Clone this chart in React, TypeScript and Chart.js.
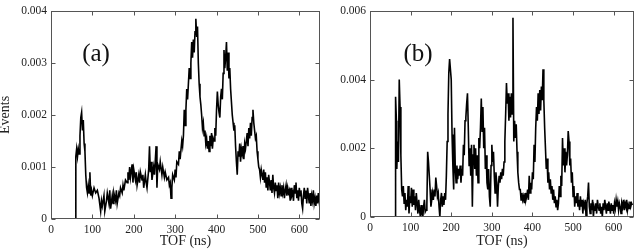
import React, { useEffect, useRef } from "react";
import { Chart, registerables } from "chart.js";

Chart.register(...registerables);

// ---- Data (events in units of 1e-3) ----
const tofA = [0, 59, 60, 62, 64, 66, 68, 70, 72, 74, 76, 78, 80, 82, 84, 86, 88, 90, 92, 94, 96, 98, 100, 104, 108, 112, 116, 120, 122, 124, 128, 130, 134, 136, 140, 142, 144, 148, 150, 152, 156, 158, 160, 164, 166, 168, 172, 174, 176, 180, 184, 186, 188, 190, 192, 196, 198, 200, 204, 206, 208, 212, 214, 216, 220, 222, 224, 228, 230, 232, 236, 238, 240, 242, 244, 248, 250, 254, 256, 258, 262, 264, 268, 270, 274, 276, 280, 284, 286, 288, 290, 292, 294, 298, 300, 302, 304, 308, 310, 312, 316, 318, 320, 322, 324, 326, 328, 330, 332, 334, 336, 338, 340, 342, 344, 346, 348, 350, 352, 354, 356, 358, 360, 362, 364, 366, 368, 370, 372, 374, 376, 378, 380, 382, 384, 386, 388, 390, 392, 394, 396, 398, 400, 402, 404, 406, 408, 410, 412, 414, 416, 418, 420, 422, 424, 426, 428, 430, 432, 434, 436, 438, 440, 442, 444, 446, 448, 450, 452, 454, 456, 458, 460, 462, 464, 466, 468, 470, 472, 474, 476, 478, 480, 482, 484, 486, 488, 490, 492, 494, 496, 498, 500, 502, 504, 506, 508, 510, 512, 514, 516, 518, 520, 522, 524, 526, 528, 530, 532, 534, 536, 538, 540, 542, 544, 546, 548, 550, 552, 554, 556, 558, 560, 562, 564, 566, 568, 570, 572, 574, 576, 578, 580, 582, 584, 586, 588, 590, 592, 594, 596, 598, 600, 602, 604, 606, 608, 610, 612, 614, 616, 618, 620, 622, 624, 626, 628, 630, 632, 634, 636, 638, 640, 642, 644, 646, 648, 650];
const eventsA = [0, 0, 1.2, 1.35, 1.2, 1.35, 1.25, 1.6, 1.95, 2.05, 1.7, 1.9, 1.45, 1.3, 0.85, 0.6, 0.5, 0.65, 0.5, 0.9, 0.45, 0.55, 0.45, 0.6, 0.5, 0.55, 0.4, 0.15, 0.35, 0.25, 0.45, 0.15, 0.35, 0.5, 0.3, 0.55, 0.2, 0.45, 0.3, 0.5, 0.35, 0.55, 0.3, 0.5, 0.45, 0.6, 0.5, 0.65, 0.55, 0.75, 0.7, 0.9, 0.75, 1.0, 0.8, 1.05, 0.7, 0.95, 0.75, 0.9, 0.65, 0.85, 0.7, 0.9, 0.75, 0.85, 0.6, 0.85, 0.7, 0.6, 0.95, 1.4, 0.9, 1.1, 0.75, 1.0, 0.85, 1.4, 0.6, 1.05, 0.95, 1.1, 0.85, 1.0, 0.8, 0.9, 0.75, 0.8, 0.65, 0.7, 0.4, 0.6, 0.85, 0.75, 0.95, 0.8, 1.1, 1.05, 1.3, 1.15, 1.5, 1.4, 1.6, 2.1, 1.8, 2.1, 2.5, 2.3, 2.6, 2.9, 2.7, 3.0, 3.4, 3.1, 3.45, 3.2, 3.6, 3.85, 3.5, 3.7, 3.0, 2.6, 2.35, 2.2, 2.0, 1.75, 1.85, 1.6, 1.7, 1.45, 1.55, 1.35, 1.5, 1.3, 1.6, 1.4, 1.65, 1.35, 1.55, 1.5, 1.75, 1.6, 2.1, 2.45, 2.2, 2.05, 1.95, 2.35, 2.5, 2.3, 2.8, 3.25, 2.9, 3.1, 3.4, 2.85, 3.2, 2.7, 2.9, 2.5, 2.25, 2.0, 1.85, 1.7, 1.8, 1.4, 1.1, 0.85, 1.3, 1.2, 1.45, 1.1, 1.35, 1.25, 1.4, 1.15, 1.45, 1.35, 1.5, 1.65, 1.4, 1.75, 1.55, 1.85, 1.6, 1.95, 2.1, 1.85, 1.7, 1.55, 1.6, 1.3, 1.15, 1.0, 0.95, 0.8, 0.95, 0.85, 0.75, 0.95, 0.7, 0.9, 0.6, 0.8, 0.55, 0.85, 0.7, 0.55, 0.75, 0.5, 0.85, 0.6, 0.5, 0.7, 0.55, 0.65, 0.4, 0.7, 0.5, 0.6, 0.45, 0.65, 0.5, 0.6, 0.4, 0.55, 0.65, 0.45, 0.6, 0.5, 0.55, 0.35, 0.6, 0.45, 0.5, 0.35, 0.65, 0.5, 0.7, 0.4, 0.55, 0.35, 0.6, 0.45, 0.55, 0.3, 0.2, 0.45, 0.6, 0.4, 0.55, 0.3, 0.6, 0.45, 0.3, 0.5, 0.25, 0.45, 0.35, 0.55, 0.3, 0.4, 0.25, 0.45, 0.3, 0.5, 0.35, 0.45];

const tofB = [0, 62, 63, 65, 66, 68, 70, 72, 74, 76, 78, 80, 82, 84, 86, 88, 90, 92, 94, 96, 98, 100, 102, 104, 106, 108, 110, 112, 114, 116, 118, 120, 122, 124, 126, 128, 130, 132, 134, 136, 138, 140, 142, 144, 146, 148, 150, 152, 154, 156, 158, 160, 162, 164, 166, 168, 170, 172, 174, 176, 178, 180, 182, 184, 186, 188, 190, 192, 194, 196, 198, 200, 202, 204, 206, 208, 210, 212, 214, 216, 218, 220, 222, 224, 226, 228, 230, 232, 234, 236, 238, 240, 242, 244, 246, 248, 250, 252, 254, 256, 258, 260, 262, 264, 266, 268, 270, 272, 274, 276, 278, 280, 282, 284, 286, 288, 290, 292, 294, 296, 298, 300, 302, 304, 306, 308, 310, 312, 314, 316, 318, 320, 322, 324, 326, 328, 330, 332, 334, 336, 338, 340, 342, 344, 346, 348, 350, 352, 354, 356, 358, 360, 362, 364, 366, 368, 370, 372, 374, 376, 378, 380, 382, 384, 386, 388, 390, 392, 394, 396, 398, 400, 402, 404, 406, 408, 410, 412, 414, 416, 418, 420, 422, 424, 426, 428, 430, 432, 434, 436, 438, 440, 442, 444, 446, 448, 450, 452, 454, 456, 458, 460, 462, 464, 466, 468, 470, 472, 474, 476, 478, 480, 482, 484, 486, 488, 490, 492, 494, 496, 498, 500, 502, 504, 506, 508, 510, 512, 514, 516, 518, 520, 522, 524, 526, 528, 530, 532, 534, 536, 538, 540, 542, 544, 546, 548, 550, 552, 554, 556, 558, 560, 562, 564, 566, 568, 570, 572, 574, 576, 578, 580, 582, 584, 586, 588, 590, 592, 594, 596, 598, 600, 602, 604, 606, 608, 610, 612, 614, 616, 618, 620, 622, 624, 626, 628, 630, 632, 634, 636, 638, 640, 642, 644, 646, 648, 650];
const eventsB = [0, 0, 3.5, 2.8, 1.4, 2.2, 1.6, 4.0, 3.2, 1.8, 0.8, 0.6, 0.9, 0.4, 0.7, 0.2, 0.5, 0.3, 0.9, 0.1, 0.6, 0.4, 0.85, 0.3, 0.8, 0.35, 0.6, 0.2, 0.7, 0.4, 0.1, 0.5, 0.2, 0.0, 0.35, 0.1, 0.0, 0.3, 0.5, 0.15, 0.2, 0.35, 1.9, 1.6, 1.2, 0.8, 0.3, 0.5, 0.7, 0.5, 0.8, 0.6, 1.15, 0.9, 0.6, 0.7, 0.3, 0.0, 0.5, 0.7, 0.3, 0.6, 0.35, 0.7, 0.5, 1.2, 2.2, 3.0, 4.2, 4.6, 4.3, 4.0, 2.4, 1.5, 0.8, 2.6, 1.4, 1.0, 1.5, 1.1, 1.4, 1.2, 1.5, 1.0, 1.4, 1.2, 2.1, 1.8, 2.8, 2.9, 3.3, 3.6, 2.6, 1.5, 2.0, 1.2, 2.1, 0.3, 1.8, 2.1, 1.4, 2.0, 1.2, 1.8, 1.0, 2.3, 2.0, 2.6, 3.45, 2.5, 3.2, 2.0, 2.6, 1.4, 1.8, 1.0, 0.8, 1.4, 0.6, 0.3, 1.5, 2.1, 1.6, 1.9, 1.2, 0.7, 1.3, 1.0, 0.3, 0.9, 1.2, 1.0, 1.3, 1.1, 1.4, 1.2, 1.6, 2.2, 3.0, 3.9, 3.3, 3.6, 2.8, 3.5, 2.9, 3.6, 3.0, 5.8, 2.2, 2.8, 2.3, 2.7, 1.9, 1.3, 1.0, 0.8, 0.8, 0.5, 0.7, 0.5, 0.6, 0.4, 0.7, 0.5, 0.6, 0.8, 0.5, 1.2, 0.7, 1.0, 0.8, 1.3, 1.1, 2.1, 1.6, 2.6, 3.2, 2.8, 3.6, 3.0, 3.7, 3.1, 3.8, 3.4, 4.3, 3.4, 2.6, 2.0, 1.4, 1.7, 1.0, 1.3, 0.8, 1.1, 0.7, 0.9, 0.5, 0.8, 0.4, 0.6, 0.3, 0.5, 0.2, 0.4, 0.9, 0.6, 1.2, 0.9, 2.3, 1.5, 2.0, 1.3, 1.9, 1.5, 1.8, 2.5, 2.2, 1.5, 1.7, 1.0, 1.3, 0.6, 0.9, 0.3, 0.6, 0.4, 0.7, 0.3, 0.5, 0.2, 0.6, 0.3, 0.5, 0.1, 0.4, 0.3, 0.5, 0.0, 0.4, 0.6, 1.0, 0.3, 0.1, 0.4, 0.2, 0.5, 0.0, 0.3, 0.2, 0.4, 0.1, 0.5, 0.3, 0.2, 0.4, 0.1, 0.3, 0.0, 0.4, 0.2, 0.5, 0.3, 0.1, 0.4, 0.2, 0.45, 0.3, 0.1, 0.4, 0.2, 0.35, 0.1, 0.4, 0.25, 0.5, 0.3, 0.45, 0.2, 0.4, 0.3, 0.1, 0.4, 0.3, 0.5, 0.2, 0.4, 0.3, 0.5, 0.2, 0.35, 0.25, 0.45, 0.3, 0.4, 0.35];

const xTickValues = [0, 100, 200, 300, 400, 500, 600];
const xTitle = "TOF (ns)";
const yTitle = "Events";

const FONT = "'Liberation Serif', 'DejaVu Serif', serif";

const framePlugin = {
  id: "frameTicks",
  afterDraw(chart: any, _args: any, opts: any) {
    const { ctx, chartArea } = chart;
    const left = Math.round(chartArea.left) + 0.5;
    const right = Math.round(chartArea.right) - 0.5;
    const top = Math.round(chartArea.top) + 0.5;
    const bottom = Math.round(chartArea.bottom) - 0.5;
    const xs = chart.scales.x;
    const ys = chart.scales.y;
    ctx.save();
    ctx.strokeStyle = "#555";
    ctx.lineWidth = 1;
    ctx.strokeRect(left, top, right - left, bottom - top);
    const L = 4;
    ctx.beginPath();
    xs.ticks.forEach((t: any) => {
      const p = Math.round(xs.getPixelForValue(t.value)) + 0.5;
      ctx.moveTo(p, bottom);
      ctx.lineTo(p, bottom - L);
      ctx.moveTo(p, top);
      ctx.lineTo(p, top + L);
    });
    ys.ticks.forEach((t: any) => {
      const p = Math.round(ys.getPixelForValue(t.value)) + 0.5;
      ctx.moveTo(left, p);
      ctx.lineTo(left + L, p);
      ctx.moveTo(right, p);
      ctx.lineTo(right - L, p);
    });
    ctx.stroke();
    ctx.fillStyle = "#111";
    ctx.font = `25px ${FONT}`;
    ctx.textAlign = "center";
    ctx.textBaseline = "middle";
    ctx.fillText(opts.label, chartArea.left + opts.lx, chartArea.top + opts.ly);
    ctx.restore();
  },
};

type PanelProps = {
  tof: number[];
  events: number[];
  yMax: number;
  yStep: number;
  label: string;
  showYTitle: boolean;
  width: number;
  left: number;
  yAxisWidth: number;
  xAxisHeight: number;
  padRight: number;
  lx: number;
  ly: number;
};

function Panel(p: PanelProps) {
  const ref = useRef<HTMLCanvasElement>(null);
  useEffect(() => {
    if (!ref.current) return;
    const data = p.tof.map((x, i) => ({ x, y: p.events[i] / 1000 }));
    const chart = new Chart(ref.current, {
      type: "line",
      data: {
        datasets: [
          {
            data,
            borderColor: "#000",
            borderWidth: 1.6,
            pointRadius: 0,
            tension: 0,
            fill: false,
          },
        ],
      },
      plugins: [framePlugin as any],
      options: {
        animation: false,
        responsive: false,
        devicePixelRatio: 1,
        layout: { padding: { top: 8, right: p.padRight, left: 0, bottom: 0 } },
        plugins: {
          legend: { display: false },
          tooltip: { enabled: false },
          frameTicks: { label: p.label, lx: p.lx, ly: p.ly },
        } as any,
        scales: {
          x: {
            type: "linear",
            min: 0,
            max: 650,
            grid: { display: false, drawTicks: false },
            border: { display: false },
            afterFit: (s: any) => {
              s.height = p.xAxisHeight;
            },
            afterBuildTicks: (s: any) => {
              s.ticks = xTickValues.map((v) => ({ value: v }));
            },
            ticks: {
              padding: 4,
              color: "#222",
              font: { family: FONT, size: 11.5 },
              maxRotation: 0,
              callback: (v: any) => String(v),
            },
            title: {
              display: true,
              text: xTitle,
              color: "#222",
              font: { family: FONT, size: 14, lineHeight: 1 },
              padding: { top: 0, bottom: 2 },
            },
          },
          y: {
            type: "linear",
            min: 0,
            max: p.yMax,
            grid: { display: false, drawTicks: false },
            border: { display: false },
            afterFit: (s: any) => {
              s.width = p.yAxisWidth;
            },
            afterBuildTicks: (s: any) => {
              const vals: number[] = [];
              const n = Math.round(p.yMax / p.yStep);
              for (let i = 0; i <= n; i++) vals.push(p.yStep * i);
              s.ticks = vals.map((v) => ({ value: v }));
            },
            ticks: {
              padding: 4,
              color: "#222",
              font: { family: FONT, size: 11.5 },
              callback: (v: any) => (Number(v) === 0 ? "0" : Number(v).toFixed(3)),
            },
            title: {
              display: p.showYTitle,
              text: yTitle,
              color: "#222",
              font: { family: FONT, size: 14, lineHeight: 1 },
              padding: { top: -2, bottom: 0 },
            },
          },
        },
      },
    });
    return () => chart.destroy();
  }, []);
  return (
    <canvas
      ref={ref}
      width={p.width}
      height={250}
      style={{ position: "absolute", left: p.left, top: 0, width: p.width, height: 250, display: "block" }}
    />
  );
}

export default function App() {
  return (
    <div style={{ position: "fixed", left: 0, top: 0, width: 640, height: 250, background: "#fff" }}>
      <Panel
        tof={tofA}
        events={eventsA}
        yMax={0.004}
        yStep={0.001}
        label="(a)"
        showYTitle={true}
        width={325}
        left={0}
        yAxisWidth={51}
        xAxisHeight={31}
        padRight={5}
        lx={45}
        ly={44}
      />
      <Panel
        tof={tofB}
        events={eventsB}
        yMax={0.006}
        yStep={0.002}
        label="(b)"
        showYTitle={false}
        width={310}
        left={330}
        yAxisWidth={40}
        xAxisHeight={33}
        padRight={6}
        lx={48}
        ly={44}
      />
    </div>
  );
}
